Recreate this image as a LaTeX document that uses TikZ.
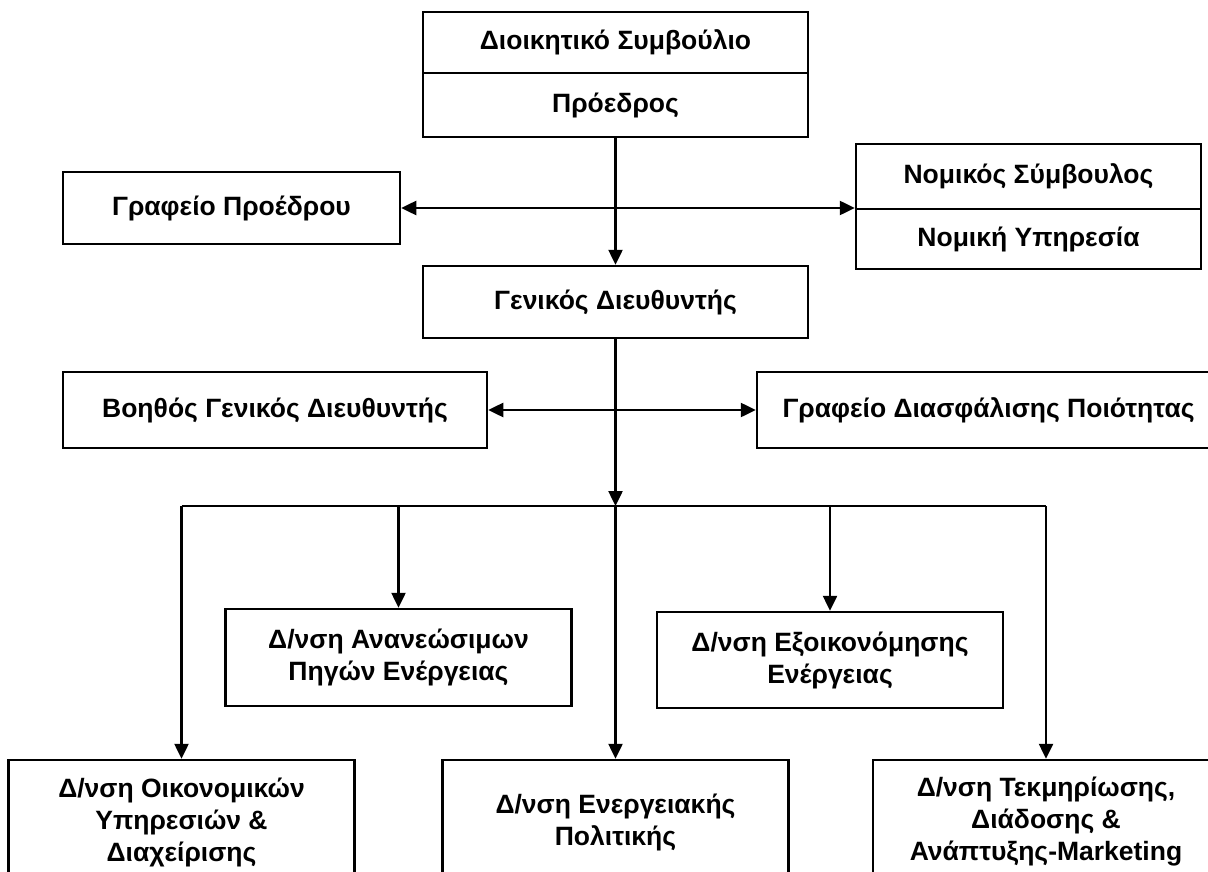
\documentclass[tikz,border=0pt]{standalone}
\usepackage{fontspec}
\setmainfont{Liberation Sans}
\usetikzlibrary{arrows.meta}
\tikzset{
    unit/.style={draw, line width=2.5pt, align=center, inner sep=0pt,
        font=\fontsize{26.5}{32}\selectfont\bfseries},
    dept/.style={unit, minimum width=346pt},
    link/.style={line width=2.5pt, -{Triangle[length=15pt,width=14pt]}},
    dlink/.style={line width=2.5pt,
        {Triangle[length=15pt,width=14pt]}-{Triangle[length=15pt,width=14pt]}}
}

\begin{document}
\begin{tikzpicture}[x=1pt,y=-1pt]
\useasboundingbox (0,0) rectangle (1208,872);
\clip (0,0) rectangle (1208,872);
% board and president
\node[unit, minimum width=385pt, minimum height=61pt] (board) at (615.5,42.5) {Διοικητικό Συμβούλιο};
\node[unit, minimum width=385pt, minimum height=64pt] (pres) at (615.5,105) {Πρόεδρος};
\node[unit, minimum width=337pt, minimum height=72pt] (presoffice) at (231.5,208) {Γραφείο Προέδρου};
\node[unit, minimum width=345pt, minimum height=65pt] (legal) at (1028.5,176.5) {Νομικός Σύμβουλος};
\node[unit, minimum width=345pt, minimum height=60pt] (legalsrv) at (1028.5,239) {Νομική Υπηρεσία};
% general manager
\node[unit, minimum width=385pt, minimum height=72pt] (gm) at (615.5,302) {Γενικός Διευθυντής};
\node[unit, minimum width=424pt, minimum height=76pt] (agm) at (275,410) {Βοηθός Γενικός Διευθυντής};
\node[unit, minimum width=463pt, minimum height=76pt] (quality) at (988.5,410) {Γραφείο Διασφάλισης Ποιότητας};
% directorates
\node[dept, minimum height=97pt] (res) at (398.5,657.5) {Δ/νση Ανανεώσιμων\\Πηγών Ενέργειας};
\node[dept, minimum height=96pt] (saving) at (830,660) {Δ/νση Εξοικονόμησης\\Ενέργειας};
\node[dept, minimum height=124pt] (finance) at (181.5,822) {Δ/νση Οικονομικών\\Υπηρεσιών \&\\Διαχείρισης};
\node[dept, minimum height=124pt] (policy) at (615.5,822) {Δ/νση Ενεργειακής\\Πολιτικής};
\node[dept, minimum height=124pt] (docu) at (1046,822) {Δ/νση Τεκμηρίωσης,\\Διάδοσης \&\\Ανάπτυξης-Marketing};

% connectors
\draw[link] (pres) -- (gm);
\draw[dlink] (presoffice.east) -- (presoffice.east -| legal.west);
\draw[dlink] (agm) -- (quality);
\coordinate (bus) at (615.5,506);
\draw[link] (gm) -- (bus);
\draw[line width=2.5pt] (finance.north |- bus) -- (docu.north |- bus);
\foreach \d in {finance,res,policy,saving,docu} {
    \draw[link] (\d.north |- bus) -- (\d.north);
}
\end{tikzpicture}
\end{document}
